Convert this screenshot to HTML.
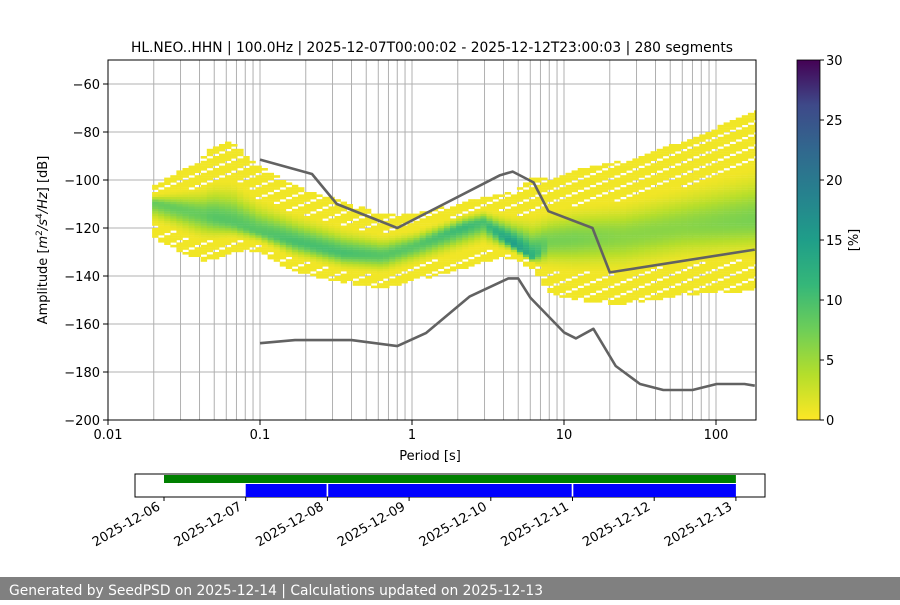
<!DOCTYPE html>
<html><head><meta charset="utf-8"><style>
body{margin:0;background:#fff;width:900px;height:600px;overflow:hidden;font-family:"Liberation Sans","DejaVu Sans",sans-serif}
</style></head><body>
<svg id="s" width="900" height="600" xmlns="http://www.w3.org/2000/svg" font-family="DejaVu Sans, Liberation Sans, sans-serif">
<defs>
<linearGradient id="vir" x1="0" y1="1" x2="0" y2="0">
<stop offset="0" stop-color="#fde725"/><stop offset="0.125" stop-color="#b5de2b"/><stop offset="0.25" stop-color="#6ece58"/><stop offset="0.375" stop-color="#35b779"/><stop offset="0.5" stop-color="#1f9e89"/><stop offset="0.625" stop-color="#26828e"/><stop offset="0.75" stop-color="#31688e"/><stop offset="0.875" stop-color="#3e4989"/><stop offset="1" stop-color="#440154"/>
</linearGradient>
<clipPath id="pc"><rect x="108" y="60" width="648" height="360"/></clipPath>
</defs>
<g id="grid"></g>
<g id="hist" clip-path="url(#pc)"></g>
<g id="models" clip-path="url(#pc)"></g>
<rect x="108" y="60" width="648" height="360" fill="none" stroke="#000" stroke-width="1"/>
<g id="axes" font-size="13"></g>
<text x="432" y="52" text-anchor="middle" font-size="13.8" textLength="602" lengthAdjust="spacingAndGlyphs">HL.NEO..HHN | 100.0Hz | 2025-12-07T00:00:02 - 2025-12-12T23:00:03 | 280 segments</text>
<text x="430" y="460" text-anchor="middle" font-size="13">Period [s]</text>
<text transform="translate(47,240) rotate(-90)" text-anchor="middle" font-size="13">Amplitude [<tspan font-style="italic">m</tspan><tspan font-size="9" dy="-5">2</tspan><tspan dy="5" font-style="italic">/s</tspan><tspan font-size="9" dy="-5">4</tspan><tspan dy="5" font-style="italic">/Hz</tspan>] [dB]</text>
<rect x="797" y="60" width="23" height="360" fill="url(#vir)" stroke="#000" stroke-width="0.8"/>
<g id="cbt" font-size="13"></g>
<text transform="translate(858,240) rotate(-90)" text-anchor="middle" font-size="13">[%]</text>
<g id="tl"></g>
<rect x="0" y="577" width="900" height="23" fill="#808080"/>
<text x="9" y="595" fill="#fff" font-size="14" textLength="534" lengthAdjust="spacingAndGlyphs">Generated by SeedPSD on 2025-12-14 | Calculations updated on 2025-12-13</text>
</svg>
<script>
// histogram envelope data (log10 period, dB)
const binLogP = [-1.71,-1.40,-1.33,-1.20,-1.03,-0.80,-0.47,-0.21,0.00,0.32,0.45,0.64,0.78,0.88,1.04,1.37,1.76,2.26];
const topDb   = [-103,-92,-87,-85,-95,-103,-110,-115,-115,-110,-108,-106,-100,-100,-97,-93,-85,-72];
const modeDb  = [-110,-115,-116,-118,-122,-126,-131,-132,-128,-120,-118,-127,-133,-126,-125,-124,-120,-117];
const botDb   = [-125,-134,-133,-130,-130,-138,-143,-145,-142,-137,-134,-133,-137,-147,-150,-152,-148,-146];
const peakPct = [8,8,9,9,9,10,10,9,9,11,10,15,12,7,7,6,6,7];
// noise models
const nhnmP = [0.1,0.22,0.32,0.8,3.8,4.6,6.3,7.9,15.4,20,180];
const nhnmDb = [-91.5,-97.5,-110,-120,-98,-96.5,-101,-113,-120,-138.5,-129];
const nlnmP = [0.1,0.17,0.4,0.8,1.24,2.4,4.3,5,6,10,12,15.6,21.9,31.6,45,70,101,154,180];
const nlnmDb = [-168,-166.7,-166.7,-169.2,-163.7,-148.5,-141,-141,-149,-163.5,-166,-162,-177.5,-185,-187.5,-187.5,-185,-185,-185.7];
const yTicks = [-60,-80,-100,-120,-140,-160,-180,-200];
const xTickLabels = ["0.01","0.1","1","10","100"];
const cbTicks = [0,5,10,15,20,25,30];
const dates = ["2025-12-06","2025-12-07","2025-12-08","2025-12-09","2025-12-10","2025-12-11","2025-12-12","2025-12-13"];
const greenSpan = [0,7];
const blueSpans = [[1,1.99],[2.01,4.99],[5.01,7]];

const NS="http://www.w3.org/2000/svg";
function el(t,a,p){const e=document.createElementNS(NS,t);for(const k in a)e.setAttribute(k,a[k]);p.appendChild(e);return e;}
const xs=lp=>108+152*(lp+2);
const xp=p=>xs(Math.log10(p));
const ys=db=>420-(db+200)*2.4;
const G=document.getElementById('grid'),H=document.getElementById('hist'),M=document.getElementById('models'),A=document.getElementById('axes');
for(let d=-2;d<=2;d++)for(let m=1;m<=9;m++){const x=xs(d+Math.log10(m));if(x>756)continue;
 const l=el('line',{x1:x,x2:x,y1:60,y2:420,stroke:'#b0b0b0','stroke-width':1},G);
 
 }
yTicks.forEach(v=>{const l=el('line',{x1:108,x2:756,y1:ys(v),y2:ys(v),stroke:'#b0b0b0','stroke-width':1},G);
 
 
 const t=el('text',{x:100,y:ys(v)+5,'text-anchor':'end'},A);t.textContent='\u2212'+Math.abs(v);
 
 
 el('line',{x1:103,x2:108,y1:ys(v),y2:ys(v),stroke:'#000'},A);});
xTickLabels.forEach((s,i)=>{const x=xs(i-2);const t=el('text',{x:x,y:439,'text-anchor':'middle'},A);t.textContent=s;
 
 
 el('line',{x1:x,x2:x,y1:420,y2:425,stroke:'#000'},A);});
const vstops=[[253,231,37],[181,222,43],[110,206,88],[53,183,121],[31,158,137],[38,130,142],[49,104,142],[62,73,137],[68,1,84]];
function col(p){let f=Math.max(0,Math.min(1,p/30))*8;const i=Math.min(7,Math.floor(f)),r=f-i;const a=vstops[i],b=vstops[i+1];
 return 'rgb('+a.map((c,k)=>Math.round(c+(b[k]-c)*r)).join(',')+')';}
function interp(arr,lp){if(lp<=binLogP[0])return arr[0];for(let i=1;i<binLogP.length;i++)if(lp<=binLogP[i]){const r=(lp-binLogP[i-1])/(binLogP[i]-binLogP[i-1]);return arr[i-1]+(arr[i]-arr[i-1])*r;}return arr[arr.length-1];}
let bi=0;
for(let lp=binLogP[0];lp<2.3;lp+=0.04,bi++){
 const tp=interp(topDb,lp),md=interp(modeDb,lp),bt=interp(botDb,lp),pk=interp(peakPct,lp);
 for(let db=Math.round(bt);db<=Math.round(tp);db++){
  const s=db>md?(tp-md)/4.5:(md-bt)/4.0;const d=(db-md)/Math.max(s,1);
  let p=pk*Math.exp(-0.5*d*d);
  if(p<0.6){ // sparse outer region: leave deterministic gaps
    if(((bi*7+db*13)%5)===0) continue;
    p=0.6;}
  const r=el('rect',{x:xs(lp).toFixed(1),y:(ys(db)-2.4).toFixed(1),width:6.4,height:2.6,fill:col(p)},H);
  
  
 }}
function line(P,D,name){const pts=P.map((p,i)=>xp(p).toFixed(1)+','+ys(D[i]).toFixed(1)).join(' ');
 const l=el('polyline',{points:pts,fill:'none',stroke:'#626262','stroke-width':2.6,'stroke-linejoin':'round'},M);
 
 }
line(nhnmP,nhnmDb,'nhnm-line');line(nlnmP,nlnmDb,'nlnm-line');
const C=document.getElementById('cbt');
cbTicks.forEach(v=>{const y=420-v*12;el('line',{x1:820,x2:824,y1:y,y2:y,stroke:'#000'},C);
 const t=el('text',{x:826,y:y+5},C);t.textContent=v;
 
 });
const T=document.getElementById('tl');const dx=d=>164+81.7*d;
el('rect',{x:135,y:474,width:630,height:23,fill:'#fff',stroke:'#000','stroke-width':1},T);
const g=el('rect',{x:dx(greenSpan[0]),y:475,width:dx(greenSpan[1])-dx(greenSpan[0]),height:8,fill:'#008000'},T);


blueSpans.forEach(s=>{const b=el('rect',{x:dx(s[0]),y:484,width:dx(s[1])-dx(s[0]),height:13,fill:'#0000ff'},T);
 
 });
dates.forEach((d,i)=>{const x=dx(i);el('line',{x1:x,x2:x,y1:497,y2:501,stroke:'#000'},T);
 const t=el('text',{transform:`translate(${x-3},${509}) rotate(-30)`,'text-anchor':'end','font-size':13},T);t.textContent=d;
 
 });
</script>
</body></html>
